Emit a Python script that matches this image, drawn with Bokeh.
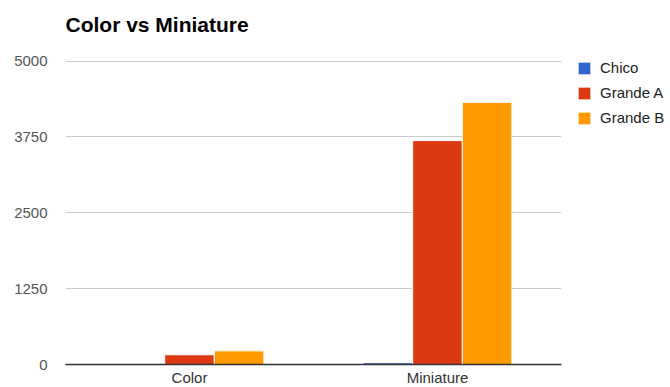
from bokeh.plotting import figure
from bokeh.models import FactorRange, Range1d, ColumnDataSource, FixedTicker, Legend, LegendItem, Title
from bokeh.transform import dodge
from bokeh.embed import file_html
from bokeh.resources import INLINE

categories = ["Color", "Miniature"]
series = ["Chico", "Grande A", "Grande B"]
chico = [0, 30]
grande_a = [160, 3690]
grande_b = [225, 4320]
y_ticks = [0, 1250, 2500, 3750, 5000]
colors = ["#3366cc", "#dc3912", "#ff9900"]

src = ColumnDataSource(dict(cat=categories, chico=chico, ga=grande_a, gb=grande_b))

p = figure(frame_width=496, frame_height=304, x_range=FactorRange(*categories, range_padding=0),
           y_range=Range1d(0, 5010), output_backend="svg", toolbar_location=None,
           title="Color vs Miniature")
p.min_border_left = 65
p.min_border_right = 109
p.min_border_top = 60
p.min_border_bottom = 23
p.outline_line_color = None
p.background_fill_color = "white"
p.border_fill_color = "white"

p.title.text_font = "Liberation Sans"
p.title.text_font_size = "21px"
p.title.text_font_style = "bold"
p.title.text_color = "#000000"
p.title.align = "left"
p.title.vertical_align = "top"
p.title.standoff = 20

# invisible spacer between title and frame
p.add_layout(Title(text=" ", text_font_size="1px", standoff=10), "above")

w = 0.2
r1 = p.vbar(x=dodge("cat", -0.2, range=p.x_range), top="chico", width=w, source=src,
            fill_color=colors[0], line_color="white", line_width=1)
r2 = p.vbar(x=dodge("cat", 0.0, range=p.x_range), top="ga", width=w, source=src,
            fill_color=colors[1], line_color="white", line_width=1)
r3 = p.vbar(x=dodge("cat", 0.2, range=p.x_range), top="gb", width=w, source=src,
            fill_color=colors[2], line_color="white", line_width=1)

p.xgrid.grid_line_color = None
p.ygrid.grid_line_color = "#cccccc"
p.ygrid.ticker = FixedTicker(ticks=y_ticks)

p.yaxis.ticker = FixedTicker(ticks=y_ticks)
p.yaxis.axis_line_color = None
p.yaxis.major_tick_line_color = None
p.yaxis.minor_tick_line_color = None
p.yaxis.major_label_text_font = "Liberation Sans"
p.yaxis.major_label_text_font_size = "15px"
p.yaxis.major_label_text_color = "#555555"
p.yaxis.major_label_standoff = 12

p.xaxis.axis_line_color = "#333333"
p.xaxis.axis_line_width = 1.5
p.xaxis.major_tick_line_color = None
p.xaxis.minor_tick_line_color = None
p.xaxis.major_label_text_font = "Liberation Sans"
p.xaxis.major_label_text_font_size = "15px"
p.xaxis.major_label_text_color = "#333333"
p.xaxis.major_label_standoff = -2

legend = Legend(items=[LegendItem(label=series[0], renderers=[r1]),
                       LegendItem(label=series[1], renderers=[r2]),
                       LegendItem(label=series[2], renderers=[r3])],
                location=(15, 238), orientation="vertical")
legend.border_line_color = None
legend.background_fill_alpha = 0
legend.margin = 0
legend.padding = 0
legend.spacing = 8
legend.glyph_width = 16
legend.glyph_height = 16
legend.label_height = 15
legend.label_standoff = 8
legend.label_text_font = "Liberation Sans"
legend.label_text_font_size = "15px"
legend.label_text_color = "#222222"
p.add_layout(legend, "right")

open("out.html", "w").write(file_html(p, INLINE))
